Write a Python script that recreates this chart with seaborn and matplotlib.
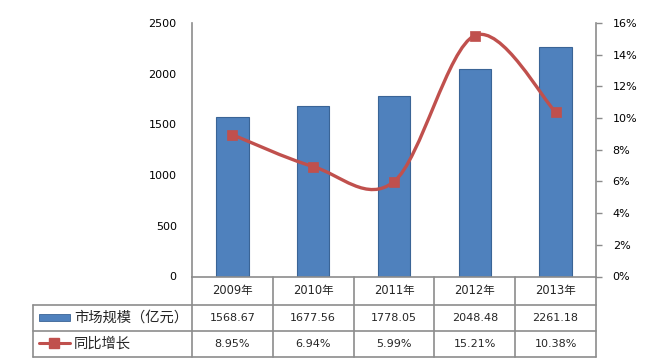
import numpy as np
import pandas as pd
import matplotlib
matplotlib.use("Agg")
import matplotlib.pyplot as plt
import matplotlib.transforms as mtransforms
from matplotlib.path import Path
from matplotlib.patches import PathPatch, Rectangle
from matplotlib.lines import Line2D
import seaborn as sns

# ---- data ----
years = ["2009年", "2010年", "2011年", "2012年", "2013年"]
market_size = [1568.67, 1677.56, 1778.05, 2048.48, 2261.18]
growth = [8.95, 6.94, 5.99, 15.21, 10.38]
series_names = ["市场规模（亿元）", "同比增长"]
left_ticks = [0, 500, 1000, 1500, 2000, 2500]
right_ticks = [0, 2, 4, 6, 8, 10, 12, 14, 16]

BLUE = "#4F81BD"
BLUE_EDGE = "#3A6496"
RED = "#C0504D"
GRID = "#8C8C8C"

sns.set_theme(style="white")
plt.rcParams['font.family'] = ['DejaVu Sans', 'Noto Sans CJK SC']

W, H = 648, 364
fig = plt.figure(figsize=(W / 100, H / 100), dpi=100)
fig.patch.set_facecolor("white")

def fy(y):
    return 1 - y / H

def fx(x):
    return x / W

X0, X1, Y0, Y1 = 192, 596, 23, 276.5
ax = fig.add_axes([fx(X0), fy(Y1), (X1 - X0) / W, (Y1 - Y0) / H])

df = pd.DataFrame({"year": years, "size": market_size})
sns.barplot(data=df, x="year", y="size", ax=ax, color=BLUE, saturation=1,
            width=0.4, edgecolor=BLUE_EDGE, linewidth=0.8, zorder=2)
ax.set_xlim(-0.5, len(years) - 0.5)
ax.set_ylim(0, 2500)
ax.set_yticks(left_ticks)
ax.set_yticklabels([str(t) for t in left_ticks], fontsize=8, color="black")
ax.set_xticks([])
ax.set_xlabel("")
ax.set_ylabel("")
ax.tick_params(axis="y", length=0, pad=11)
for s in ["top", "right"]:
    ax.spines[s].set_visible(False)
for s in ["left", "bottom"]:
    ax.spines[s].set_color(GRID)
    ax.spines[s].set_linewidth(1.2)
ax.patch.set_alpha(0)

ax2 = ax.twinx()
ax2.set_ylim(0, 16)
ax2.set_yticks(right_ticks)
ax2.set_yticklabels([f"{t}%" for t in right_ticks], fontsize=8, color="black")
ax2.tick_params(axis="y", length=4, width=1, color=GRID, pad=8, direction="out")
for s in ["top", "left", "bottom"]:
    ax2.spines[s].set_visible(False)
ax2.spines["right"].set_color(GRID)
ax2.spines["right"].set_linewidth(1.2)

# smooth line (Excel-like Catmull-Rom bezier) through the growth values
xs = np.arange(len(growth), dtype=float)
pts = np.column_stack([xs, np.array(growth, dtype=float)])
verts = [pts[0]]
codes = [Path.MOVETO]
n = len(pts)
for i in range(n - 1):
    p0 = pts[i - 1] if i > 0 else pts[i]
    p1 = pts[i]
    p2 = pts[i + 1]
    p3 = pts[i + 2] if i + 2 < n else pts[i + 1]
    verts += [p1 + (p2 - p0) / 6, p2 - (p3 - p1) / 6, p2]
    codes += [Path.CURVE4] * 3
ax2.add_patch(PathPatch(Path(verts, codes), facecolor="none", edgecolor=RED,
                        lw=2.4, capstyle="round", joinstyle="round", zorder=4))
sns.scatterplot(x=xs, y=growth, ax=ax2, marker="s", s=62, color=RED,
                edgecolor=RED, linewidth=0.5, zorder=5, legend=False)

# ---- data table below the chart ----
blend = mtransforms.blended_transform_factory(ax.transData, fig.transFigure)
ROW_LINES = [305, 330.5, 357]
ROW_CENTERS = [290.5, 318, 344]
TL = 33

for b in np.arange(-0.5, len(years), 1.0):
    fig.add_artist(Line2D([b, b], [fy(Y1), fy(ROW_LINES[-1])], transform=blend,
                          color=GRID, lw=1.2))
for y in ROW_LINES:
    fig.add_artist(Line2D([fx(TL), fx(X1)], [fy(y), fy(y)], transform=fig.transFigure,
                          color=GRID, lw=1.2))
fig.add_artist(Line2D([fx(TL), fx(TL)], [fy(ROW_LINES[0]), fy(ROW_LINES[-1])],
                      transform=fig.transFigure, color=GRID, lw=1.2))

for i, yr in enumerate(years):
    fig.text(i, fy(ROW_CENTERS[0]), yr, transform=blend, ha="center", va="center", fontsize=8.3)
    fig.text(i, fy(ROW_CENTERS[1]), f"{market_size[i]:.2f}", transform=blend,
             ha="center", va="center", fontsize=8)
    fig.text(i, fy(ROW_CENTERS[2]), f"{growth[i]:.2f}%", transform=blend,
             ha="center", va="center", fontsize=8)

# legend keys in the table
fig.add_artist(Rectangle((fx(38.5), fy(321)), (69.5 - 38.5) / W, 7 / H,
                         transform=fig.transFigure, facecolor=BLUE, edgecolor=BLUE_EDGE, lw=0.6))
fig.add_artist(Line2D([fx(38.5), fx(69.5)], [fy(342.7), fy(342.7)], transform=fig.transFigure,
                      color=RED, lw=2.2))
fig.add_artist(Line2D([fx(54)], [fy(342.7)], transform=fig.transFigure, color=RED,
                      marker="s", markersize=6.5, linestyle="none"))
fig.text(fx(74), fy(ROW_CENTERS[1]), series_names[0], ha="left", va="center", fontsize=10.3,
         family=['Noto Sans CJK SC', 'DejaVu Sans'])
fig.text(fx(74), fy(ROW_CENTERS[2]), series_names[1], ha="left", va="center", fontsize=10.3,
         family=['Noto Sans CJK SC', 'DejaVu Sans'])

fig.savefig("out.png", dpi=100, facecolor="white")
